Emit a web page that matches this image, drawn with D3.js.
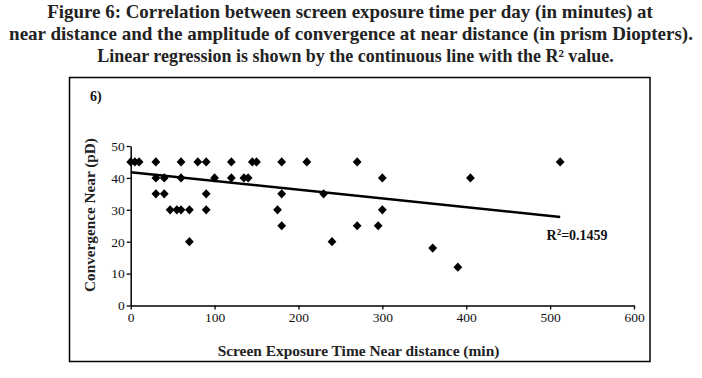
<!DOCTYPE html>
<html><head><meta charset="utf-8">
<script src="https://cdn.jsdelivr.net/npm/d3@7"></script>
<style>
html,body{margin:0;padding:0;background:#fff;}
text{font-family:"Liberation Serif","Times New Roman",serif;}
</style></head>
<body>
<svg id="c" width="702" height="378"></svg>
<script>
// Data
const screenTime = [0,5,10,30,60,80,90,120,145,150,180,210,270,512,
  30,40,60,100,120,135,140,300,405,
  30,40,90,180,230,
  47,55,60,70,90,175,300,
  180,270,295,
  70,240,
  360,390];
const convergence = [45,45,45,45,45,45,45,45,45,45,45,45,45,45,
  40,40,40,40,40,40,40,40,40,
  35,35,35,35,35,
  30,30,30,30,30,30,30,
  25,25,25,
  20,20,
  18,12];
const regIntercept = 41.8, regSlope = -0.0275, regXmax = 512;
const xTicks = [0,100,200,300,400,500,600];
const yTicks = [0,10,20,30,40,50];
const titleLines = [
  "Figure 6: Correlation between screen exposure time per day (in minutes) at",
  "near distance and the amplitude of convergence at near distance (in prism Diopters).",
  "Linear regression is shown by the continuous line with the R\u00B2 value."
];

const svg = d3.select("#c");
const x = d3.scaleLinear().domain([0,600]).range([130.7,634]);
const y = d3.scaleLinear().domain([0,50]).range([305.5,146]);

function fit(el, base, width){
  const w = el.node().getComputedTextLength();
  el.attr("font-size", base*width/w);
}

// Title
const titleTargets = [[47,653,18],[9,693,40],[97,614,62]];
titleLines.forEach((t,i)=>{
  const [l,r,b] = titleTargets[i];
  const el = svg.append("text").attr("x",(l+r)/2).attr("y",b)
    .attr("text-anchor","middle").attr("font-weight","bold")
    .attr("fill","#222").attr("font-size",17).text(t);
  fit(el,17,r-l);
});

// Frame
svg.append("rect").attr("x",69.5).attr("y",77.5).attr("width",580.5).attr("height",284)
  .attr("fill","none").attr("stroke","#000").attr("stroke-width",1.5);

svg.append("text").attr("x",90).attr("y",101).attr("font-size",14).attr("font-weight","bold")
  .attr("fill","#111").text("6)");

// Axes
const gx = svg.append("g").attr("transform",`translate(0,${y(0)})`)
  .call(d3.axisBottom(x).tickValues(xTicks).tickSize(4).tickPadding(3).tickSizeOuter(0));
const gy = svg.append("g").attr("transform",`translate(${x(0)},0)`)
  .call(d3.axisLeft(y).tickValues(yTicks).tickSize(4).tickPadding(2).tickSizeOuter(0));
[gx,gy].forEach(g=>{
  g.select(".domain").attr("stroke","#000").attr("stroke-width",1.5);
  g.selectAll(".tick line").attr("stroke","#000").attr("stroke-width",1.3);
  g.selectAll(".tick text").attr("font-size",13.5).attr("fill","#111")
    .attr("font-family","Liberation Serif, serif");
});

// Axis titles
const xl = svg.append("text").attr("x",358.5).attr("y",355.5).attr("text-anchor","middle")
  .attr("font-size",14.5).attr("font-weight","bold").attr("fill","#222")
  .text("Screen Exposure Time Near distance (min)");
fit(xl,14.5,282);
const yl = svg.append("text").attr("transform","translate(95,215) rotate(-90)").attr("text-anchor","middle")
  .attr("font-size",14.5).attr("font-weight","bold").attr("fill","#222")
  .text("Convergence Near (pD)");
fit(yl,14.5,154);

// Points
const pts = screenTime.map((v,i)=>({x:v,y:convergence[i]}));
const dia = "M0,-4.6L4.4,0L0,4.6L-4.4,0Z";
svg.append("g").selectAll("path").data(pts).join("path")
  .attr("d",dia).attr("fill","#000")
  .attr("transform",d=>`translate(${x(d.x)},${y(d.y)})`);

// Regression line
svg.append("line").attr("x1",x(0)).attr("y1",y(regIntercept))
  .attr("x2",x(regXmax)).attr("y2",y(regIntercept+regSlope*regXmax))
  .attr("stroke","#000").attr("stroke-width",2.5);

const r2 = svg.append("text").attr("x",546.5).attr("y",240).attr("font-size",14)
  .attr("font-weight","bold").attr("fill","#111");
r2.append("tspan").text("R");
r2.append("tspan").attr("font-size",9).attr("dy",-5).text("2");
r2.append("tspan").attr("dy",5).text("=0.1459");
</script>
</body></html>
